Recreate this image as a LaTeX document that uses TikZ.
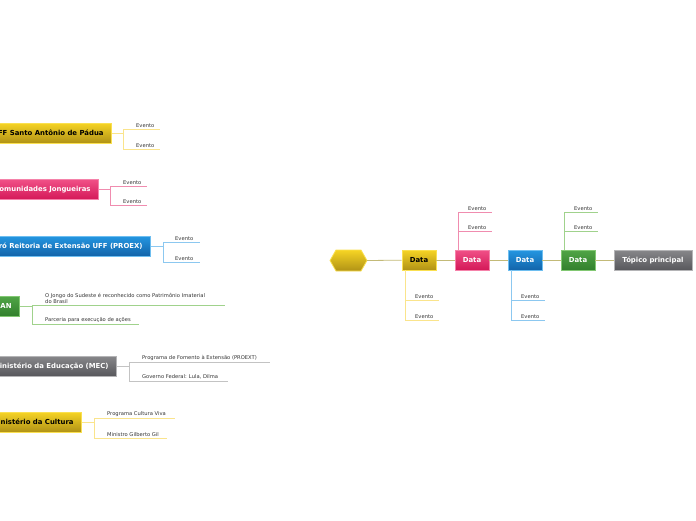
\documentclass[tikz,border=0pt]{standalone}
\usepackage{fontspec}
\setmainfont{DejaVu Sans}
\begin{document}
\begin{tikzpicture}[x=1pt,y=-1pt,
  every node/.style={inner sep=0pt},
  boxf/.style={font=\bfseries\fontsize{6.9}{7.5}\selectfont},
  evf/.style={font=\fontsize{5.2}{6}\selectfont, text=black!80, anchor=south west, inner sep=1pt},
  ybox/.style={boxf, text=black, top color={rgb,255:red,246;green,212;blue,36}, bottom color={rgb,255:red,176;green,146;blue,22}, draw={rgb,255:red,250;green,224;blue,80}, line width=0.8pt},
  pbox/.style={boxf, text=white, top color={rgb,255:red,240;green,80;blue,135}, bottom color={rgb,255:red,212;green,24;blue,88}, draw={rgb,255:red,245;green,130;blue,170}, line width=0.8pt},
  bbox/.style={boxf, text=white, top color={rgb,255:red,36;green,150;blue,225}, bottom color={rgb,255:red,18;green,100;blue,170}, draw={rgb,255:red,110;green,190;blue,240}, line width=0.8pt},
  gbox/.style={boxf, text=white, top color={rgb,255:red,80;green,165;blue,70}, bottom color={rgb,255:red,50;green,128;blue,45}, draw={rgb,255:red,130;green,200;blue,115}, line width=0.8pt},
  kbox/.style={boxf, text=white, top color={rgb,255:red,135;green,135;blue,138}, bottom color={rgb,255:red,88;green,88;blue,92}, draw={rgb,255:red,180;green,180;blue,182}, line width=0.8pt},
  dbox/.style={minimum width=34pt, minimum height=20pt},
  lbox/.style={anchor=east, minimum height=20pt, inner xsep=8pt},
  yl/.style={draw={rgb,255:red,250;green,228;blue,140}, line width=0.7pt},
  pl/.style={draw={rgb,255:red,240;green,140;blue,175}, line width=0.7pt},
  bl/.style={draw={rgb,255:red,140;green,200;blue,240}, line width=0.7pt},
  gl/.style={draw={rgb,255:red,160;green,210;blue,140}, line width=0.7pt},
  kl/.style={draw={rgb,255:red,195;green,195;blue,195}, line width=0.7pt},
  tl/.style={draw={rgb,255:red,195;green,186;blue,120}, line width=0.8pt}
]
\useasboundingbox (0,0) rectangle (696,520);
\clip (0,0) rectangle (696,520);

% ---------- timeline ----------
\path[top color={rgb,255:red,246;green,212;blue,36}, bottom color={rgb,255:red,176;green,146;blue,22}, draw={rgb,255:red,250;green,224;blue,80}, line width=0.8pt]
  (330,260.5) -- (336,250) -- (361,250) -- (367,260.5) -- (361,271) -- (336,271) -- cycle;
\coordinate (hex) at (367,260.5);

\node[ybox,dbox] (d1) at (419,260) {Data};
\node[pbox,dbox] (d2) at (472,260) {Data};
\node[bbox,dbox] (d3) at (525,260) {Data};
\node[gbox,dbox] (d4) at (578,260) {Data};
\node[kbox,minimum width=78pt,minimum height=20pt] (top) at (653,260) {Tópico principal};

\draw[tl] (hex) -- (d1);
\draw[tl] (d1) -- (d2);
\draw[tl] (d2) -- (d3);
\draw[tl] (d3) -- (d4);
\draw[tl] (d4) -- (top);

% d1 events (below)
\coordinate (d1a) at (439,300); \coordinate (d1b) at (439,320);
\draw[yl] (d1.south west) ++(4,0) |- (d1b);
\draw[yl] (d1.south west |- d1a) ++(4,0) -- (d1a);
\node[evf] (d1ta) at (414,299.5) {Evento};
\node[evf] (d1tb) at (414,319.5) {Evento};
% d2 events (above)
\coordinate (d2a) at (492,212); \coordinate (d2b) at (492,231);
\draw[pl] (d2.north west) ++(4,0) |- (d2a);
\draw[pl] (d2.north west |- d2b) ++(4,0) -- (d2b);
\node[evf] (d2ta) at (467,211.5) {Evento};
\node[evf] (d2tb) at (467,230.5) {Evento};
% d3 events (below)
\coordinate (d3a) at (545,300); \coordinate (d3b) at (545,320);
\draw[bl] (d3.south west) ++(4,0) |- (d3b);
\draw[bl] (d3.south west |- d3a) ++(4,0) -- (d3a);
\node[evf] (d3ta) at (520,299.5) {Evento};
\node[evf] (d3tb) at (520,319.5) {Evento};
% d4 events (above)
\coordinate (d4a) at (598,212); \coordinate (d4b) at (598,231);
\draw[gl] (d4.north west) ++(4,0) |- (d4a);
\draw[gl] (d4.north west |- d4b) ++(4,0) -- (d4b);
\node[evf] (d4ta) at (573,211.5) {Evento};
\node[evf] (d4tb) at (573,230.5) {Evento};

% ---------- left topics ----------
% 1
\node[ybox,lbox] (l1) at (112,133) {UFF Santo Antônio de Pádua};
\coordinate (l1j) at (123,133); \coordinate (l1a) at (160,129); \coordinate (l1b) at (160,149);
\draw[yl] (l1.east) -- (l1j);
\draw[yl] (l1j |- l1a) -- (l1a);
\draw[yl] (l1j |- l1a) |- (l1b);
\node[evf] (l1ta) at (135,128.5) {Evento};
\node[evf] (l1tb) at (135,148.5) {Evento};
% 2
\node[pbox,lbox] (l2) at (99,189.5) {Comunidades Jongueiras};
\coordinate (l2j) at (110,189.5); \coordinate (l2a) at (147,186); \coordinate (l2b) at (147,205);
\draw[pl] (l2.east) -- (l2j);
\draw[pl] (l2j |- l2a) -- (l2a);
\draw[pl] (l2j |- l2a) |- (l2b);
\node[evf] (l2ta) at (122,185.5) {Evento};
\node[evf] (l2tb) at (122,204.5) {Evento};
% 3
\node[bbox,lbox] (l3) at (151,246) {Pró Reitoria de Extensão UFF (PROEX)};
\coordinate (l3j) at (163,246); \coordinate (l3a) at (200,242); \coordinate (l3b) at (200,262);
\draw[bl] (l3.east) -- (l3j);
\draw[bl] (l3j |- l3a) -- (l3a);
\draw[bl] (l3j |- l3a) |- (l3b);
\node[evf] (l3ta) at (174,241.5) {Evento};
\node[evf] (l3tb) at (174,261.5) {Evento};
% 4
\node[gbox,lbox] (l4) at (20,306) {IPHAN};
\coordinate (l4j) at (32,306); \coordinate (l4a) at (225,305); \coordinate (l4b) at (139,324);
\draw[gl] (l4.east) -- (l4j);
\draw[gl] (l4j |- l4a) -- (l4a);
\draw[gl] (l4j |- l4a) |- (l4b);
\node[evf, align=left] (l4ta) at (44,304.5) {O Jongo do Sudeste é reconhecido como Patrimônio Imaterial\\do Brasil};
\node[evf] (l4tb) at (44,323.5) {Parceria para execução de ações};
% 5
\node[kbox,lbox] (l5) at (117,366) {Ministério da Educação (MEC)};
\coordinate (l5j) at (129,366); \coordinate (l5a) at (270,362); \coordinate (l5b) at (228,381);
\draw[kl] (l5.east) -- (l5j);
\draw[kl] (l5j |- l5a) -- (l5a);
\draw[kl] (l5j |- l5a) |- (l5b);
\node[evf] (l5ta) at (141,361.5) {Programa de Fomento à Extensão (PROEXT)};
\node[evf] (l5tb) at (141,380.5) {Governo Federal: Lula, Dilma};
% 6
\node[ybox,lbox] (l6) at (82,422) {Ministério da Cultura};
\coordinate (l6j) at (94,422); \coordinate (l6a) at (175,418); \coordinate (l6b) at (167,438);
\draw[yl] (l6.east) -- (l6j);
\draw[yl] (l6j |- l6a) -- (l6a);
\draw[yl] (l6j |- l6a) |- (l6b);
\node[evf] (l6ta) at (106,417.5) {Programa Cultura Viva};
\node[evf] (l6tb) at (106,437.5) {Ministro Gilberto Gil};
\end{tikzpicture}
\end{document}
